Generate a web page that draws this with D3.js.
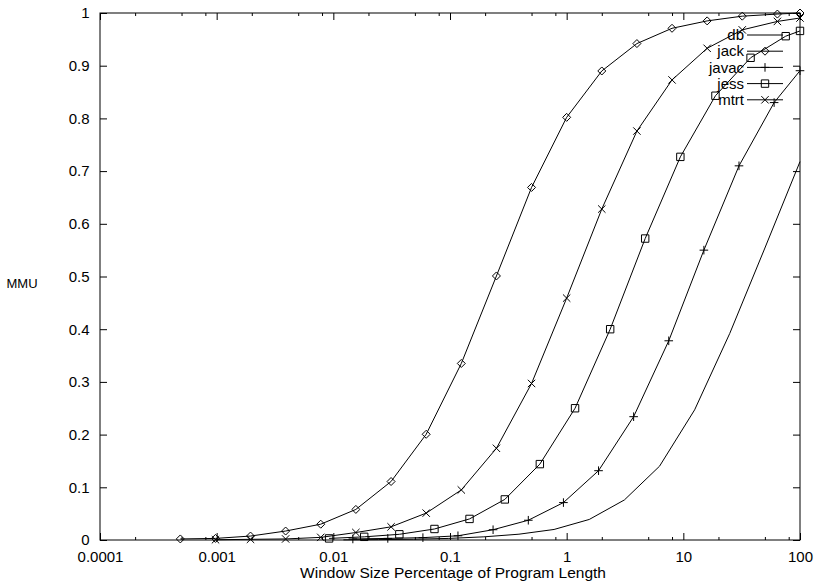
<!DOCTYPE html>
<html><head><meta charset="utf-8">
<script src="https://cdn.jsdelivr.net/npm/d3@7/dist/d3.min.js"></script>
<style>
html,body{margin:0;padding:0;background:#fff;}
svg text{font-family:"Liberation Sans",Arial,Helvetica,sans-serif;fill:#000;}
</style></head>
<body>
<svg id="chart" width="815" height="584"></svg>
<script>
// ---- data ----
const seriesNames = ["db", "jack", "javac", "jess", "mtrt"];
const seriesMarkers = ["none", "diamond", "plus", "square", "times"];

const dbX = [0.0122, 0.0244, 0.0488, 0.0977, 0.195, 0.39, 0.78, 1.5625, 3.125, 6.25, 12.5, 25, 50, 100];
const dbY = [0.0003, 0.0007, 0.0015, 0.003, 0.006, 0.011, 0.020, 0.039, 0.076, 0.140, 0.247, 0.392, 0.554, 0.718];

const jackX = [0.000488, 0.000977, 0.00195, 0.0039, 0.0078, 0.0156, 0.03125, 0.0625, 0.125, 0.25, 0.5, 1, 2, 4, 8, 16, 32, 64, 100];
const jackY = [0.002, 0.003, 0.0075, 0.017, 0.030, 0.058, 0.111, 0.2006, 0.335, 0.501, 0.669, 0.802, 0.890, 0.942, 0.971, 0.985, 0.994, 0.998, 1.0];

const javacX = [0.0147, 0.0293, 0.0586, 0.117, 0.234, 0.469, 0.938, 1.876, 3.75, 7.5, 15, 30, 60, 100];
const javacY = [0.002, 0.003, 0.0045, 0.008, 0.0195, 0.0375, 0.071, 0.1315, 0.234, 0.378, 0.550, 0.710, 0.830, 0.8905];

const jessX = [0.0092, 0.0184, 0.0368, 0.0736, 0.147, 0.295, 0.589, 1.18, 2.36, 4.71, 9.43, 18.85, 37.7, 75.4, 100];
const jessY = [0.003, 0.006, 0.0108, 0.0209, 0.040, 0.077, 0.144, 0.250, 0.400, 0.572, 0.727, 0.843, 0.915, 0.956, 0.966];

const mtrtX = [0.000977, 0.00195, 0.0039, 0.0078, 0.0156, 0.03125, 0.0625, 0.125, 0.25, 0.5, 1, 2, 4, 8, 16, 32, 64, 100];
const mtrtY = [0.0005, 0.0013, 0.002, 0.005, 0.0142, 0.025, 0.051, 0.095, 0.174, 0.297, 0.459, 0.628, 0.776, 0.873, 0.933, 0.968, 0.984, 0.9905];

const xTickValues = [0.0001, 0.001, 0.01, 0.1, 1, 10, 100];
const xTickLabels = ["0.0001", "0.001", "0.01", "0.1", "1", "10", "100"];
const xMinorMultipliers = [2, 5, 8];
const yTickValues = [0, 0.1, 0.2, 0.3, 0.4, 0.5, 0.6, 0.7, 0.8, 0.9, 1];
const yTickLabels = ["0", "0.1", "0.2", "0.3", "0.4", "0.5", "0.6", "0.7", "0.8", "0.9", "1"];
const xTitle = "Window Size Percentage of Program Length";
const yTitle = "MMU";

// ---- layout ----
const L = 100, R = 800, T = 13, B = 540;
const svg = d3.select("#chart");
const x = d3.scaleLog().domain([0.0001, 100]).range([L, R]);
const y = d3.scaleLinear().domain([0, 1]).range([B, T]);

const minorVals = [];
for (let i = 0; i < xTickValues.length - 1; i++) {
  xMinorMultipliers.forEach(m => minorVals.push(xTickValues[i] * m));
}

function styleAxis(g) {
  g.select(".domain").remove();
  g.selectAll("line").attr("stroke", "#000").attr("stroke-width", 1);
  g.selectAll("text").attr("font-size", 15).attr("fill", "#000")
    .attr("font-family", "\"Liberation Sans\",Arial,Helvetica,sans-serif");
}

// bottom major
svg.append("g").attr("transform", `translate(0,${B})`)
  .call(d3.axisBottom(x).tickValues(xTickValues).tickSize(-7).tickPadding(11)
    .tickFormat((d, i) => xTickLabels[i]))
  .call(styleAxis);
// bottom minor
svg.append("g").attr("transform", `translate(0,${B})`)
  .call(d3.axisBottom(x).tickValues(minorVals).tickSize(-3).tickFormat(""))
  .call(styleAxis);
// top major + minor
svg.append("g").attr("transform", `translate(0,${T})`)
  .call(d3.axisTop(x).tickValues(xTickValues).tickSize(-7).tickFormat(""))
  .call(styleAxis);
svg.append("g").attr("transform", `translate(0,${T})`)
  .call(d3.axisTop(x).tickValues(minorVals).tickSize(-3).tickFormat(""))
  .call(styleAxis);
// left
svg.append("g").attr("transform", `translate(${L},0)`)
  .call(d3.axisLeft(y).tickValues(yTickValues).tickSize(-7).tickPadding(10.5)
    .tickFormat((d, i) => yTickLabels[i]))
  .call(styleAxis);
// right
svg.append("g").attr("transform", `translate(${R},0)`)
  .call(d3.axisRight(y).tickValues(yTickValues).tickSize(-7).tickFormat(""))
  .call(styleAxis);

// frame
svg.append("rect").attr("x", L).attr("y", T).attr("width", R - L).attr("height", B - T)
  .attr("fill", "none").attr("stroke", "#000").attr("stroke-width", 1);

// titles
svg.append("text").attr("x", 453).attr("y", 578).attr("text-anchor", "middle")
  .attr("font-size", 15.5).text(xTitle);
svg.append("text").attr("x", 22).attr("y", 288).attr("text-anchor", "middle")
  .attr("font-size", 13).text(yTitle);

// markers
function markerPath(type, cx, cy) {
  const p = d3.path();
  if (type === "diamond") {
    const r = 4;
    p.moveTo(cx, cy - r); p.lineTo(cx + r, cy); p.lineTo(cx, cy + r); p.lineTo(cx - r, cy); p.closePath();
  } else if (type === "square") {
    const r = 3.7;
    p.rect(cx - r, cy - r, 2 * r, 2 * r);
  } else if (type === "plus") {
    const r = 4.3;
    p.moveTo(cx - r, cy); p.lineTo(cx + r, cy); p.moveTo(cx, cy - r); p.lineTo(cx, cy + r);
  } else if (type === "times") {
    const r = 3.7;
    p.moveTo(cx - r, cy - r); p.lineTo(cx + r, cy + r); p.moveTo(cx - r, cy + r); p.lineTo(cx + r, cy - r);
  }
  return p.toString();
}

const seriesData = [
  [dbX, dbY], [jackX, jackY], [javacX, javacY], [jessX, jessY], [mtrtX, mtrtY]
];
const line = d3.line().x(d => x(d[0])).y(d => y(d[1]));

seriesData.forEach(([xs, ys], si) => {
  const pts = xs.map((v, i) => [v, ys[i]]);
  const g = svg.append("g");
  g.append("path").attr("d", line(pts)).attr("fill", "none")
    .attr("stroke", "#000").attr("stroke-width", 1);
  const m = seriesMarkers[si];
  if (m !== "none") {
    g.selectAll("path.m").data(pts).join("path").attr("class", "m")
      .attr("d", d => markerPath(m, x(d[0]), y(d[1])))
      .attr("fill", "none").attr("stroke", "#000").attr("stroke-width", 1);
  }
});

// legend
const legY0 = 35, legDy = 16.2;
seriesNames.forEach((name, i) => {
  const ly = legY0 + i * legDy;
  svg.append("text").attr("x", 744).attr("y", ly).attr("dy", "0.35em")
    .attr("text-anchor", "end").attr("font-size", 15).text(name);
  svg.append("line").attr("x1", 747).attr("x2", 783).attr("y1", ly).attr("y2", ly)
    .attr("stroke", "#000").attr("stroke-width", 1);
  if (seriesMarkers[i] !== "none") {
    svg.append("path").attr("d", markerPath(seriesMarkers[i], 765, ly))
      .attr("fill", "none").attr("stroke", "#000").attr("stroke-width", 1);
  }
});
</script>
</body></html>
